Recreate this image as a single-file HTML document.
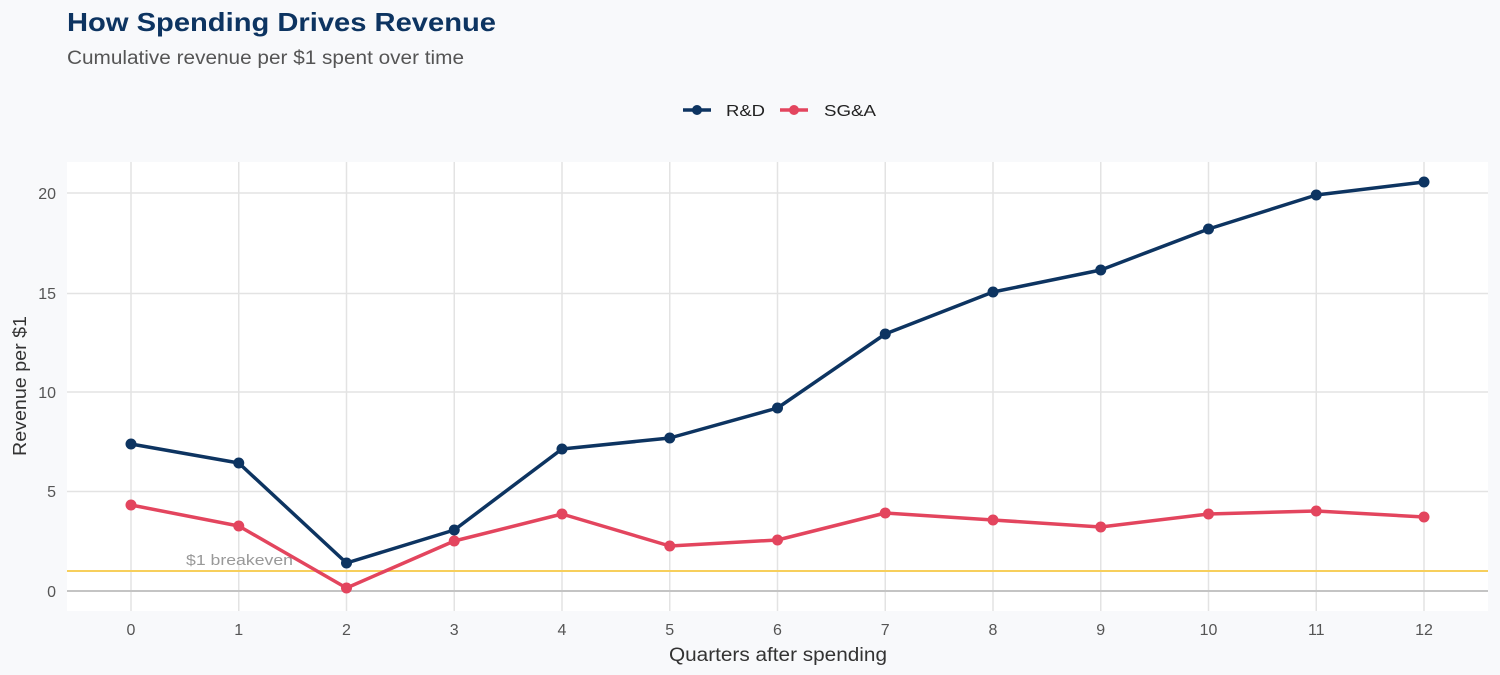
<!DOCTYPE html>
<html><head><meta charset="utf-8"><style>
body{margin:0;background:#f8f9fb;font-family:"Liberation Sans",sans-serif;overflow:hidden;}
svg{display:block;}
</style></head><body>
<svg width="1500" height="675" xmlns="http://www.w3.org/2000/svg" font-family="Liberation Sans, sans-serif">
<rect width="1500" height="675" fill="#f8f9fb"/>
<text x="67" y="31" font-size="26" font-weight="bold" fill="#0d3461" textLength="429" lengthAdjust="spacingAndGlyphs">How Spending Drives Revenue</text>
<text x="67" y="64" font-size="19" fill="#555" textLength="397" lengthAdjust="spacingAndGlyphs">Cumulative revenue per $1 spent over time</text>
<line x1="683" y1="110" x2="711" y2="110" stroke="#0d3461" stroke-width="3.5"/><circle cx="697" cy="110" r="5" fill="#0d3461"/>
<text x="726" y="116" font-size="16" fill="#222" textLength="39" lengthAdjust="spacingAndGlyphs">R&amp;D</text>
<line x1="780" y1="110" x2="808" y2="110" stroke="#e3455e" stroke-width="3.5"/><circle cx="794" cy="110" r="5" fill="#e3455e"/>
<text x="824" y="116" font-size="16" fill="#222" textLength="52" lengthAdjust="spacingAndGlyphs">SG&amp;A</text>
<rect x="67" y="162" width="1421" height="449" fill="#fff"/>
<g stroke="#e3e3e3" stroke-width="1.5">
<line x1="67" x2="1488" y1="193" y2="193"/><line x1="67" x2="1488" y1="293.5" y2="293.5"/><line x1="67" x2="1488" y1="392" y2="392"/><line x1="67" x2="1488" y1="491.5" y2="491.5"/>
<line y1="162" y2="611" x1="131" x2="131"/><line y1="162" y2="611" x1="238.75" x2="238.75"/><line y1="162" y2="611" x1="346.5" x2="346.5"/><line y1="162" y2="611" x1="454.25" x2="454.25"/><line y1="162" y2="611" x1="562" x2="562"/><line y1="162" y2="611" x1="669.75" x2="669.75"/><line y1="162" y2="611" x1="777.5" x2="777.5"/><line y1="162" y2="611" x1="885.25" x2="885.25"/><line y1="162" y2="611" x1="993" x2="993"/><line y1="162" y2="611" x1="1100.75" x2="1100.75"/><line y1="162" y2="611" x1="1208.5" x2="1208.5"/><line y1="162" y2="611" x1="1316.25" x2="1316.25"/><line y1="162" y2="611" x1="1424" x2="1424"/>
</g>
<line x1="67" x2="1488" y1="591" y2="591" stroke="#c4c4c4" stroke-width="2"/>
<line x1="67" x2="1488" y1="571" y2="571" stroke="#f7cf5c" stroke-width="2"/>
<text x="186" y="565" font-size="15" fill="#999" textLength="107" lengthAdjust="spacingAndGlyphs">$1 breakeven</text>
<g font-size="16" fill="#555" text-anchor="end">
<text x="56" y="199">20</text><text x="56" y="299">15</text><text x="56" y="398">10</text><text x="56" y="497">5</text><text x="56" y="597">0</text>
</g>
<g font-size="16" fill="#555" text-anchor="middle">
<text x="131" y="635">0</text><text x="238.75" y="635">1</text><text x="346.5" y="635">2</text><text x="454.25" y="635">3</text><text x="562" y="635">4</text><text x="669.75" y="635">5</text><text x="777.5" y="635">6</text><text x="885.25" y="635">7</text><text x="993" y="635">8</text><text x="1100.75" y="635">9</text><text x="1208.5" y="635">10</text><text x="1316.25" y="635">11</text><text x="1424" y="635">12</text>
</g>
<text x="669" y="661" font-size="19" fill="#333" textLength="218" lengthAdjust="spacingAndGlyphs">Quarters after spending</text>
<text transform="translate(26,386) rotate(-90)" font-size="18" fill="#333" text-anchor="middle" textLength="140" lengthAdjust="spacingAndGlyphs">Revenue per $1</text>
<polyline fill="none" stroke="#e3455e" stroke-width="3.5" stroke-linejoin="round" points="131,505 238.75,526 346.5,588 454.25,541 562,514 669.75,546 777.5,540 885.25,513 993,520 1100.75,527 1208.5,514 1316.25,511 1424,517"/>
<g fill="#e3455e"><circle cx="131" cy="505" r="5.5"/><circle cx="238.75" cy="526" r="5.5"/><circle cx="346.5" cy="588" r="5.5"/><circle cx="454.25" cy="541" r="5.5"/><circle cx="562" cy="514" r="5.5"/><circle cx="669.75" cy="546" r="5.5"/><circle cx="777.5" cy="540" r="5.5"/><circle cx="885.25" cy="513" r="5.5"/><circle cx="993" cy="520" r="5.5"/><circle cx="1100.75" cy="527" r="5.5"/><circle cx="1208.5" cy="514" r="5.5"/><circle cx="1316.25" cy="511" r="5.5"/><circle cx="1424" cy="517" r="5.5"/></g>
<polyline fill="none" stroke="#0d3461" stroke-width="3.5" stroke-linejoin="round" points="131,444 238.75,463 346.5,563 454.25,530 562,449 669.75,438 777.5,408 885.25,334 993,292 1100.75,270 1208.5,229 1316.25,195 1424,182"/>
<g fill="#0d3461"><circle cx="131" cy="444" r="5.5"/><circle cx="238.75" cy="463" r="5.5"/><circle cx="346.5" cy="563" r="5.5"/><circle cx="454.25" cy="530" r="5.5"/><circle cx="562" cy="449" r="5.5"/><circle cx="669.75" cy="438" r="5.5"/><circle cx="777.5" cy="408" r="5.5"/><circle cx="885.25" cy="334" r="5.5"/><circle cx="993" cy="292" r="5.5"/><circle cx="1100.75" cy="270" r="5.5"/><circle cx="1208.5" cy="229" r="5.5"/><circle cx="1316.25" cy="195" r="5.5"/><circle cx="1424" cy="182" r="5.5"/></g>
</svg>
</body></html>
